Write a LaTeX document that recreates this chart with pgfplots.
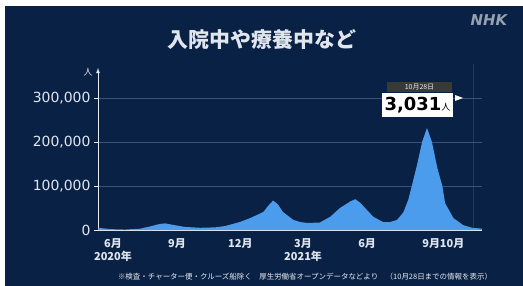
\documentclass[border=0pt]{standalone}
\usepackage{pgfplots}
\pgfplotsset{compat=1.18}
\usepackage{fontspec}
\setmainfont{Noto Sans CJK JP}
\newfontfamily\numfont{DejaVu Sans}
\definecolor{navy}{RGB}{9,33,68}
\definecolor{areablue}{RGB}{76,156,238}
\definecolor{gridc}{RGB}{58,84,120}
\definecolor{txt}{RGB}{225,230,238}
\definecolor{nhk}{RGB}{150,160,175}
\definecolor{tagc}{RGB}{58,58,52}
\begin{document}
\begin{tikzpicture}
\useasboundingbox (0,0) rectangle (523bp,286bp);
\fill[white] (0,0) rectangle (523bp,286bp);
\fill[navy] (5bp,0) rectangle (523bp,280bp);
\node[text=txt, font=\bfseries\fontsize{21}{24}\selectfont] at (262bp,246bp) {入院中や療養中など};
\node[text=nhk, font=\bfseries\itshape\numfont\fontsize{15}{17}\selectfont] at (489bp,266bp) {NHK};
\draw[gridc!45!navy, line width=0.5pt] (473bp,56bp) -- (473bp,222bp);
\begin{axis}[
  at={(98bp,56bp)}, anchor=south west,
  scale only axis, width=384bp, height=162bp,
  xmin=-21.5, xmax=530, ymin=0, ymax=368000,
  clip=false,
  axis x line*=bottom, axis y line*=left,
  x axis line style={-, draw=txt!80, line width=0.8pt},
  y axis line style={-latex, draw=txt!80, line width=0.8pt},
  ytick={0,100000,200000,300000},
  yticklabels={0,{100,000},{200,000},{300,000}},
  yticklabel style={text=txt, font=\numfont\fontsize{14}{16}\selectfont},
  y tick style={draw=txt!80, line width=0.8pt},
  tick align=outside, major tick length=4bp,
  ymajorgrids, grid style={gridc, line width=0.8pt},
  xtick={0,92,183,273,365,457,487},
  xticklabels={{6月\\2020年},9月,12月,{3月\\2021年},6月,9月,10月},
  xticklabel style={text=txt, font=\bfseries\fontsize{11}{13}\selectfont, align=center, anchor=north, yshift=-1bp},
  x tick style={draw=none},
  scaled y ticks=false,
]
\addplot[fill=areablue, draw=none] coordinates {
(-21,5000) (-4,2000) (17,1000) (39,3000) (53,8000) (68,14000) (75,15000) (85,12000) (103,7000) (125,5000) (147,6000) (161,9000) (182,18000) (197,27000) (208,35000) (216,41000) (223,55000) (230,67000) (237,58000) (244,41000) (259,23000) (269,18000) (279,16000) (297,17000) (312,30000) (326,50000) (341,65000) (348,70000) (355,62000) (362,50000) (374,30000) (388,18000) (398,18000) (408,23000) (417,40000) (424,68000) (430,105000) (437,150000) (444,200000) (451,232000) (458,200000) (466,140000) (473,100000) (477,61000) (489,27000) (503,11000) (516,5000) (530,3000)
} \closedcycle;
\end{axis}
\node[text=txt, font=\fontsize{9}{10}\selectfont] at (88bp,214bp) {人};
\node[fill=tagc, text=txt!80, font=\fontsize{7}{8}\selectfont, inner sep=1.5bp, minimum width=65bp, minimum height=10bp] at (419.5bp,199bp) {10月28日};
\node[fill=white, text=black, inner sep=0pt, minimum width=71bp, minimum height=24bp] at (417.5bp,181bp) {\bfseries\numfont\fontsize{18}{20}\selectfont 3,031\fontsize{9}{10}\selectfont\normalfont 人};
\fill[white] (455bp,191bp) -- (463bp,188bp) -- (455bp,185bp) -- cycle;
\node[text=txt!70, font=\fontsize{7.5}{9}\selectfont] at (305bp,9bp) {※検査・チャーター便・クルーズ船除く　厚生労働省オープンデータなどより　（10月28日までの情報を表示）};
\end{tikzpicture}
\end{document}
